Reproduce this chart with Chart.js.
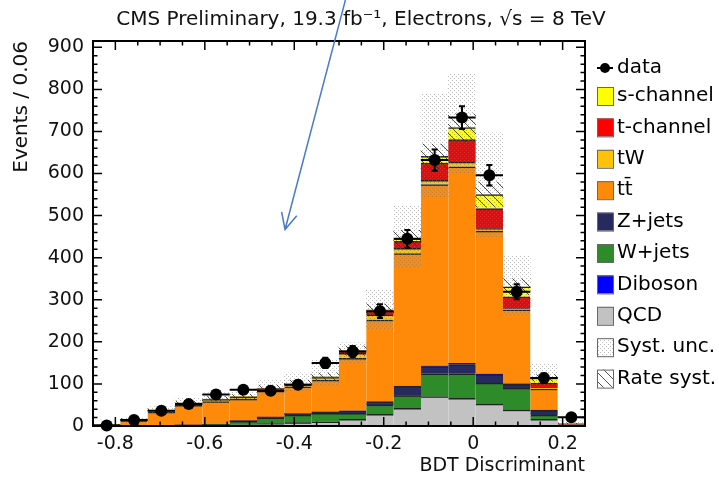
<!DOCTYPE html>
<html>
<head>
<meta charset="utf-8">
<script src="https://cdn.jsdelivr.net/npm/chart.js@4.4.1/dist/chart.umd.min.js"></script>
<style>
  body { margin: 0; background: #fff; }
  canvas { display: block; }
</style>
</head>
<body>
<canvas id="bdtChart" width="719" height="478"></canvas>
<script>
// bin centres of the BDT discriminant histogram (18 bins from -0.85 to 0.25)
const binCenters = [-0.8194, -0.7583, -0.6972, -0.6361, -0.5750, -0.5139, -0.4528, -0.3917, -0.3306,
                    -0.2694, -0.2083, -0.1472, -0.0861, -0.0250, 0.0361, 0.0972, 0.1583, 0.2194];
const binWidth = 0.0611;
const xMin = -0.85, xMax = 0.25, yMax = 915;

// observed events
const dataCounts = [1, 14, 36, 52, 75, 86, 84, 98, 150, 177, 273, 445, 632, 733, 596, 319, 114, 21];

// simulated contributions (events per bin)
const qcd     = [0, 0, 0, 1, 2, 3, 5, 8, 10, 16, 28, 42, 70, 66, 52, 38, 16, 0];
const wJets   = [0, 1, 1, 1, 2, 8, 14, 18, 20, 14, 22, 30, 54, 58, 50, 52, 10, 1];
const zJets   = [0, 0, 0, 0, 0, 1, 2, 3, 3, 5, 7, 22, 17, 22, 20, 9, 11, 0];
const diboson = [0, 0, 0, 0, 0, 0, 0, 0, 0, 1, 1, 1, 2, 3, 2, 1, 1, 0];
const ttbar   = [2, 12, 32, 47, 54, 52, 62, 64, 76, 125, 194, 315, 431, 467, 339, 176, 50, 2];
const tW      = [0.5, 2, 3, 4, 4, 4, 5, 5, 6, 12, 12, 12, 10, 11, 6, 3, 4, 0.5];
const tChan   = [0.3, 1, 1, 1, 1, 1, 1, 1, 1, 4, 9, 17, 41, 54, 48, 28, 10, 1];
const sChan   = [0.2, 0.5, 1, 1, 1, 1, 1, 1, 1, 2, 3, 6, 16, 28, 33, 24, 12, 1];

// uncertainty bands (lower / upper edge)
const systLow   = [1, 8, 30, 45, 55, 58, 75, 82, 95, 150, 229, 376, 543, 600, 450, 265, 95, 0];
const systHigh  = [5, 20, 46, 66, 79, 82, 108, 126, 157, 198, 324, 522, 788, 836, 697, 403, 149, 12];
const rateLow   = [2, 14, 35, 51, 60, 65, 85, 95, 110, 168, 262, 425, 612, 676, 520, 312, 106, 5];
const rateHigh  = [4, 18, 41, 59, 70, 75, 97, 109, 126, 190, 290, 465, 670, 742, 580, 350, 122, 7];

// axis ticks
const xTicks = [-0.8, -0.6, -0.4, -0.2, 0, 0.2];
const xTickLabels = ['-0.8', '-0.6', '-0.4', '-0.2', '0', '0.2'];
const yTicks = [0, 100, 200, 300, 400, 500, 600, 700, 800, 900];

const FONT = "'DejaVu Sans', sans-serif";
const TITLE = 'CMS Preliminary, 19.3 fb\u207B\u00B9, Electrons, \u221As = 8 TeV';

function makeDots() {
    const c = document.createElement('canvas');
    c.width = 4; c.height = 4;
    const g = c.getContext('2d');
    g.fillStyle = 'rgba(120,120,120,0.5)';
    g.fillRect(0, 0, 1, 1);
    g.fillRect(2, 2, 1, 1);
    return g.createPattern(c, 'repeat');
}

function makeHatch() {
    const c = document.createElement('canvas');
    c.width = 9; c.height = 9;
    const g = c.getContext('2d');
    g.strokeStyle = 'rgba(50,50,50,0.85)';
    g.lineWidth = 1;
    g.beginPath();
    g.moveTo(-1, -1); g.lineTo(10, 10);
    g.stroke();
    return g.createPattern(c, 'repeat');
}

const dotPattern = makeDots();
const hatchPattern = makeHatch();

// stacked from the bottom up
const mcLayers = [
    { label: 'QCD', data: qcd, color: '#c2c2c2' },
    { label: 'W+jets', data: wJets, color: '#2e8b2a' },
    { label: 'Z+jets', data: zJets, color: '#262a5e' },
    { label: 'Diboson', data: diboson, color: '#0000ff' },
    { label: 't\u0074\u0304', data: ttbar, color: '#ff8a0a' },
    { label: 'tW', data: tW, color: '#ffc20a' },
    { label: 't-channel', data: tChan, color: '#ff0000' },
    { label: 's-channel', data: sChan, color: '#ffff00' }
];

const mcDatasets = mcLayers.map(l => ({
    type: 'bar',
    label: l.label,
    data: l.data,
    backgroundColor: l.color,
    borderColor: '#222',
    borderWidth: { top: 1.5, right: 0, bottom: 0, left: 0 },
    borderSkipped: false,
    grouped: false,
    stack: 'mc',
    order: 3,
    barPercentage: 1,
    categoryPercentage: 1
}));

const datasets = [
    {
        type: 'scatter',
        label: 'data',
        xAxisID: 'xv',
        data: binCenters.map((x, i) => ({ x: x, y: dataCounts[i] })),
        backgroundColor: '#000',
        borderColor: '#000',
        pointRadius: 6,
        pointBorderWidth: 0,
        clip: false,
        order: 0
    },
    {
        type: 'bar',
        label: 'Rate syst.',
        data: rateLow.map((v, i) => [v, rateHigh[i]]),
        backgroundColor: hatchPattern,
        borderWidth: 0,
        grouped: false,
        stack: 'rate',
        order: 1,
        barPercentage: 1,
        categoryPercentage: 1
    },
    {
        type: 'bar',
        label: 'Syst. unc.',
        data: systLow.map((v, i) => [v, systHigh[i]]),
        backgroundColor: dotPattern,
        borderWidth: 0,
        grouped: false,
        stack: 'syst',
        order: 2,
        barPercentage: 1,
        categoryPercentage: 1
    }
].concat(mcDatasets);

// inner tick marks on all four sides plus the frame
const frameTicks = {
    id: 'frameTicks',
    afterDatasetsDraw(chart) {
        const { ctx, chartArea: a, scales } = chart;
        const xs = scales.xv, ys = scales.y;
        ctx.save();
        ctx.strokeStyle = '#000';
        ctx.lineWidth = 1.5;
        ctx.beginPath();
        for (let k = 0; k <= 22; k++) {
            const v = xMin + k * 0.05;
            const px = xs.getPixelForValue(v);
            const major = xTicks.some(t => Math.abs(t - v) < 1e-6);
            const len = major ? 9 : 4.5;
            ctx.moveTo(px, a.bottom); ctx.lineTo(px, a.bottom - len);
            ctx.moveTo(px, a.top); ctx.lineTo(px, a.top + len);
        }
        for (let v = 0; v <= yMax; v += 20) {
            const py = ys.getPixelForValue(v);
            const len = v % 100 === 0 ? 9 : 4.5;
            ctx.moveTo(a.left, py); ctx.lineTo(a.left + len, py);
            ctx.moveTo(a.right, py); ctx.lineTo(a.right - len, py);
        }
        ctx.stroke();
        ctx.lineWidth = 2;
        ctx.strokeRect(a.left, a.top, a.right - a.left, a.bottom - a.top);
        ctx.restore();
    }
};

// error bars for the data points
const errorBars = {
    id: 'errorBars',
    afterDatasetsDraw(chart) {
        const { ctx, scales } = chart;
        const xs = scales.xv, ys = scales.y;
        ctx.save();
        ctx.strokeStyle = '#000';
        ctx.lineWidth = 2;
        ctx.beginPath();
        binCenters.forEach((x, i) => {
            const n = dataCounts[i];
            const err = Math.sqrt(n);
            const py = ys.getPixelForValue(n);
            ctx.moveTo(xs.getPixelForValue(x - binWidth / 2), py);
            ctx.lineTo(xs.getPixelForValue(x + binWidth / 2), py);
            const px = xs.getPixelForValue(x);
            const yl = ys.getPixelForValue(n - err), yh = ys.getPixelForValue(n + err);
            ctx.moveTo(px, yl); ctx.lineTo(px, yh);
            ctx.moveTo(px - 3, yl); ctx.lineTo(px + 3, yl);
            ctx.moveTo(px - 3, yh); ctx.lineTo(px + 3, yh);
        });
        ctx.stroke();
        ctx.restore();
    }
};

// the blue annotation arrow, placed in data coordinates
const arrowTail = { x: -0.285, y: 1015 };
const arrowHead = { x: -0.4206, y: 467 };

const arrowNote = {
    id: 'arrowNote',
    afterDraw(chart) {
        const { ctx, scales } = chart;
        const x0 = scales.xv.getPixelForValue(arrowTail.x), y0 = scales.y.getPixelForValue(arrowTail.y);
        const x1 = scales.xv.getPixelForValue(arrowHead.x), y1 = scales.y.getPixelForValue(arrowHead.y);
        const ang = Math.atan2(y1 - y0, x1 - x0);
        ctx.save();
        ctx.strokeStyle = '#4a7cc0';
        ctx.lineWidth = 1.5;
        ctx.beginPath();
        ctx.moveTo(x0, y0); ctx.lineTo(x1, y1);
        ctx.moveTo(x1 - 18 * Math.cos(ang - 0.45), y1 - 18 * Math.sin(ang - 0.45));
        ctx.lineTo(x1, y1);
        ctx.lineTo(x1 - 18 * Math.cos(ang + 0.45), y1 - 18 * Math.sin(ang + 0.45));
        ctx.stroke();
        ctx.restore();
    }
};

// title and legend on the right, in ROOT style
const sideLegend = {
    id: 'sideLegend',
    afterDraw(chart) {
        const { ctx } = chart;
        const entries = [
            { label: 's-channel', fill: '#ffff00' },
            { label: 't-channel', fill: '#ff0000' },
            { label: 'tW', fill: '#ffc20a' },
            { label: 't\u0074\u0304', fill: '#ff8a0a' },
            { label: 'Z+jets', fill: '#262a5e' },
            { label: 'W+jets', fill: '#2e8b2a' },
            { label: 'Diboson', fill: '#0000ff' },
            { label: 'QCD', fill: '#c2c2c2' },
            { label: 'Syst. unc.', fill: dotPattern },
            { label: 'Rate syst.', fill: hatchPattern }
        ];
        ctx.save();
        ctx.font = '20px ' + FONT;
        ctx.fillStyle = '#111';
        ctx.textBaseline = 'middle';
        ctx.textAlign = 'center';
        ctx.fillText(TITLE, 361, 20);

        const bx = 597, tx = 617;
        ctx.textAlign = 'left';
        // data entry
        let y = 68;
        ctx.fillStyle = '#000';
        ctx.strokeStyle = '#000';
        ctx.lineWidth = 2;
        ctx.beginPath();
        ctx.moveTo(bx, y); ctx.lineTo(bx + 16, y);
        ctx.stroke();
        ctx.beginPath();
        ctx.arc(bx + 8, y, 5, 0, Math.PI * 2);
        ctx.fill();
        ctx.fillText('data', tx, y);
        entries.forEach((e, i) => {
            const cy = 96 + i * 31.4;
            ctx.fillStyle = '#fff';
            ctx.fillRect(bx, cy - 9, 16, 18);
            ctx.fillStyle = e.fill;
            ctx.fillRect(bx, cy - 9, 16, 18);
            ctx.strokeStyle = '#666';
            ctx.lineWidth = 1;
            ctx.strokeRect(bx + 0.5, cy - 8.5, 16, 18);
            ctx.fillStyle = '#000';
            ctx.fillText(e.label, tx, cy);
        });
        ctx.restore();
    }
};

const ctx = document.getElementById('bdtChart').getContext('2d');
const chart = new Chart(ctx, {
    type: 'bar',
    data: {
        labels: binCenters.map(v => v.toFixed(3)),
        datasets: datasets
    },
    options: {
        responsive: false,
        animation: false,
        devicePixelRatio: 1,
        layout: {
            padding: { left: 0, right: 134, top: 41, bottom: 0 }
        },
        plugins: {
            legend: { display: false },
            tooltip: { enabled: false },
            title: { display: false }
        },
        scales: {
            x: {
                type: 'category',
                display: false,
                stacked: true,
                offset: true
            },
            xv: {
                type: 'linear',
                position: 'bottom',
                min: xMin,
                max: xMax,
                offset: false,
                afterBuildTicks: (scale) => { scale.ticks = xTicks.map(v => ({ value: v })); },
                afterFit: (scale) => { scale.height = 52; },
                grid: { display: false, drawTicks: false, offset: false },
                border: { display: false },
                ticks: {
                    color: '#111',
                    font: { family: FONT, size: 19 },
                    padding: 7,
                    maxRotation: 0,
                    autoSkip: false,
                    callback: (v, i) => xTickLabels[i]
                },
                title: {
                    display: true,
                    text: 'BDT Discriminant',
                    align: 'end',
                    color: '#111',
                    font: { family: FONT, size: 19 },
                    padding: { top: 0, bottom: 1 }
                }
            },
            y: {
                type: 'linear',
                stacked: true,
                min: 0,
                max: yMax,
                afterBuildTicks: (scale) => { scale.ticks = yTicks.map(v => ({ value: v })); },
                afterFit: (scale) => { scale.width = 93; },
                grid: { display: false, drawTicks: false },
                border: { display: false },
                ticks: {
                    color: '#111',
                    font: { family: FONT, size: 19 },
                    padding: 9
                },
                title: {
                    display: true,
                    text: 'Events / 0.06',
                    align: 'end',
                    color: '#111',
                    font: { family: FONT, size: 20 },
                    padding: { top: 10, bottom: 0 }
                }
            }
        }
    },
    plugins: [frameTicks, errorBars, arrowNote, sideLegend]
});
</script>
</body>
</html>
